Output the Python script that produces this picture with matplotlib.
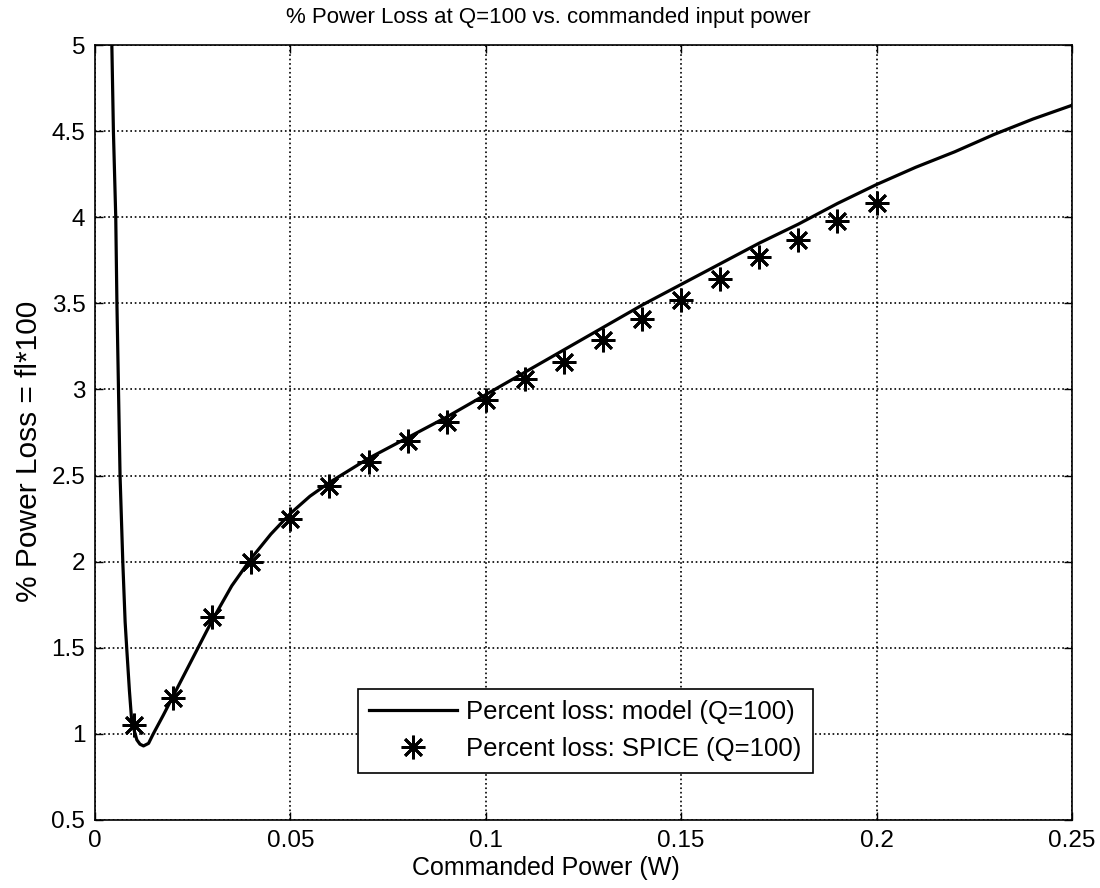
import matplotlib
matplotlib.use("Agg")
import matplotlib.pyplot as plt

plt.rcParams['font.family'] = ['Liberation Sans', 'DejaVu Sans']

# Model curve
model_x = [0.0043, 0.0047, 0.0053, 0.0056, 0.0060, 0.0064, 0.0071, 0.0077, 0.0081,
           0.0088, 0.0094, 0.0107, 0.0115, 0.0124, 0.0137, 0.0149, 0.0175, 0.020,
           0.025, 0.030, 0.035, 0.040, 0.045, 0.050, 0.055, 0.060, 0.065, 0.070,
           0.080, 0.090, 0.100, 0.110, 0.120, 0.130, 0.140, 0.150, 0.160, 0.170,
           0.180, 0.190, 0.200, 0.210, 0.220, 0.230, 0.240, 0.250]
model_y = [5.0, 4.5, 4.0, 3.5, 3.0, 2.5, 2.0, 1.65, 1.5,
           1.25, 1.07, 0.965, 0.94, 0.93, 0.945, 1.0, 1.11, 1.22,
           1.44, 1.66, 1.86, 2.02, 2.16, 2.28, 2.38, 2.46, 2.53, 2.60,
           2.72, 2.84, 2.97, 3.10, 3.23, 3.36, 3.49, 3.61, 3.73, 3.85,
           3.96, 4.08, 4.19, 4.29, 4.38, 4.48, 4.57, 4.65]

# SPICE points
spice_x = [0.01, 0.02, 0.03, 0.04, 0.05, 0.06, 0.07, 0.08, 0.09, 0.10,
           0.11, 0.12, 0.13, 0.14, 0.15, 0.16, 0.17, 0.18, 0.19, 0.20]
spice_y = [1.05, 1.21, 1.68, 2.00, 2.25, 2.44, 2.58, 2.70, 2.81, 2.94,
           3.06, 3.16, 3.29, 3.41, 3.52, 3.64, 3.77, 3.87, 3.98, 4.08]

xticks = [0, 0.05, 0.1, 0.15, 0.2, 0.25]
xticklabels = ['0', '0.05', '0.1', '0.15', '0.2', '0.25']
yticks = [0.5, 1, 1.5, 2, 2.5, 3, 3.5, 4, 4.5, 5]
yticklabels = ['0.5', '1', '1.5', '2', '2.5', '3', '3.5', '4', '4.5', '5']

fig = plt.figure(figsize=(11, 8.88), dpi=100)
ax = fig.add_axes([0.0864, 0.0766, 0.8881, 0.8727])

ax.plot(model_x, model_y, color='black', linewidth=2.3,
        label='Percent loss: model (Q=100)', zorder=3)
ax.plot(spice_x, spice_y, linestyle='none', marker=(8, 2, 0), markersize=17,
        markeredgewidth=2.0, color='black',
        label='Percent loss: SPICE (Q=100)', zorder=4)

ax.set_xlim(0, 0.25)
ax.set_ylim(0.5, 5)
ax.set_xticks(xticks)
ax.set_xticklabels(xticklabels)
ax.set_yticks(yticks)
ax.set_yticklabels(yticklabels)
ax.tick_params(direction='in', length=6, width=1, top=True, right=True,
               labelsize=17.5, pad=7)
ax.grid(True, linestyle=':', color='black', linewidth=1.2)
for s in ax.spines.values():
    s.set_linewidth(1.2)

ax.set_title('% Power Loss at Q=100 vs. commanded input power', fontsize=16,
             pad=16, x=0.464)
ax.set_xlabel('Commanded Power (W)', fontsize=18, labelpad=3)
ax.xaxis.label.set_x(0.461)
ax.set_ylabel('% Power Loss = fl*100', fontsize=21.5, labelpad=6)
ax.yaxis.label.set_y(0.476)

leg = ax.legend(loc='lower left', bbox_to_anchor=(0.269, 0.061), borderaxespad=0,
                fontsize=18.5, fancybox=False, framealpha=1, edgecolor='black',
                handlelength=3.4, handletextpad=0.35, borderpad=0.45,
                labelspacing=0.5)
leg.get_frame().set_linewidth(1.2)

fig.savefig('out.png', dpi=100)
